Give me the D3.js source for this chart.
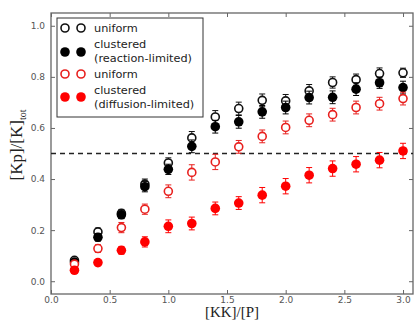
<!DOCTYPE html>
<html><head><meta charset="utf-8">
<script src="https://cdn.jsdelivr.net/npm/d3@7"></script>
<style>body{margin:0;background:#fff}svg{display:block}</style>
</head><body>
<script>
const xs = [0.2,0.4,0.6,0.8,1.0,1.2,1.4,1.6,1.8,2.0,2.2,2.4,2.6,2.8,3.0];
const uniformRL   = [0.082,0.193,0.266,0.38,0.463,0.561,0.643,0.676,0.708,0.706,0.745,0.778,0.789,0.813,0.816];
const uniformRLErr= [0.010,0.015,0.015,0.020,0.020,0.025,0.025,0.025,0.025,0.025,0.025,0.022,0.022,0.022,0.018];
const clusteredRL = [0.075,0.172,0.26,0.37,0.438,0.528,0.605,0.624,0.663,0.68,0.719,0.72,0.752,0.777,0.758];
const clusteredRLErr=[0.010,0.015,0.015,0.020,0.020,0.025,0.025,0.025,0.025,0.025,0.025,0.025,0.025,0.022,0.025];
const uniformDL   = [0.067,0.128,0.21,0.282,0.352,0.426,0.467,0.526,0.567,0.602,0.63,0.652,0.68,0.695,0.715];
const uniformDLErr= [0.010,0.015,0.020,0.020,0.025,0.030,0.030,0.025,0.025,0.025,0.025,0.025,0.025,0.025,0.025];
const clusteredDL = [0.043,0.073,0.121,0.154,0.215,0.226,0.285,0.306,0.337,0.372,0.415,0.441,0.458,0.474,0.51];
const clusteredDLErr=[0.010,0.012,0.015,0.020,0.025,0.025,0.025,0.025,0.030,0.030,0.030,0.030,0.030,0.030,0.030];
const legendLabels = [["uniform"],["clustered","(reaction-limited)"],["uniform"],["clustered","(diffusion-limited)"]];
const xTicks = [0.0,0.5,1.0,1.5,2.0,2.5,3.0];
const yTicks = [0.0,0.2,0.4,0.6,0.8,1.0];

const W=415,H=322;
const svg=d3.select("body").append("svg").attr("width",W).attr("height",H);
const x=d3.scaleLinear().domain([0,3.085]).range([51,413]);
const y=d3.scaleLinear().domain([-0.05,1.05]).range([294,13]);
const frameCol="#666", tickTxt="#555";

// frame
svg.append("rect").attr("x",51).attr("y",13).attr("width",362).attr("height",281)
  .attr("fill","none").attr("stroke",frameCol).attr("stroke-width",1.3);

// axes (ticks inward)
const fmt=d3.format(".1f");
const gx=svg.append("g").attr("transform","translate(0,294)")
  .call(d3.axisBottom(x).tickValues(xTicks).tickFormat(fmt).tickSizeInner(-4).tickSizeOuter(0).tickPadding(3));
const gxt=svg.append("g").attr("transform","translate(0,13)")
  .call(d3.axisTop(x).tickValues(xTicks).tickFormat("").tickSizeInner(-4).tickSizeOuter(0));
const gy=svg.append("g").attr("transform","translate(51,0)")
  .call(d3.axisLeft(y).tickValues(yTicks).tickFormat(fmt).tickSizeInner(-4).tickSizeOuter(0).tickPadding(6));
const gyr=svg.append("g").attr("transform","translate(413,0)")
  .call(d3.axisRight(y).tickValues(yTicks).tickFormat("").tickSizeInner(-4).tickSizeOuter(0));
[gx,gxt,gy,gyr].forEach(g=>{
  g.select(".domain").remove();
  g.selectAll("line").attr("stroke",frameCol);
  g.selectAll("text").attr("fill",tickTxt).attr("font-family","DejaVu Sans").attr("font-size",9);
});

// dashed line at 0.5
svg.append("line").attr("x1",51).attr("x2",413).attr("y1",y(0.5)).attr("y2",y(0.5))
  .attr("stroke","#222").attr("stroke-width",1.4).attr("stroke-dasharray","5,4");

const series=[
  {vals:uniformRL,err:uniformRLErr,col:"#111",filled:false},
  {vals:clusteredRL,err:clusteredRLErr,col:"#000",filled:true},
  {vals:uniformDL,err:uniformDLErr,col:"#e8201e",filled:false},
  {vals:clusteredDL,err:clusteredDLErr,col:"#f00",filled:true},
];
series.forEach(s=>{
  const g=svg.append("g");
  xs.forEach((xv,i)=>{
    const cx=x(xv), v=s.vals[i], e=s.err[i];
    g.append("line").attr("x1",cx).attr("x2",cx).attr("y1",y(v-e)).attr("y2",y(v+e)).attr("stroke",s.col).attr("stroke-width",1);
    [v-e,v+e].forEach(t=>g.append("line").attr("x1",cx-3).attr("x2",cx+3).attr("y1",y(t)).attr("y2",y(t)).attr("stroke",s.col).attr("stroke-width",1));
    g.append("circle").attr("cx",cx).attr("cy",y(v)).attr("r",s.filled?4.8:4)
      .attr("fill",s.filled?s.col:"#fff").attr("stroke",s.col).attr("stroke-width",s.filled?0:1.6);
  });
});

// legend
const lg=svg.append("g");
lg.append("rect").attr("x",57).attr("y",18).attr("width",146).attr("height",99)
  .attr("fill","#fff").attr("stroke","#333").attr("stroke-width",1);
const markerY=[28,52,74,97];
const textY=[[28],[44,58],[74],[90,104]];
series.forEach((s,i)=>{
  [65,81].forEach(mx=>lg.append("circle").attr("cx",mx).attr("cy",markerY[i]).attr("r",s.filled?4.8:4)
    .attr("fill",s.filled?s.col:"#fff").attr("stroke",s.col).attr("stroke-width",s.filled?0:1.6));
  legendLabels[i].forEach((t,j)=>lg.append("text").attr("x",94).attr("y",textY[i][j]).attr("dy","0.35em")
    .attr("font-family","DejaVu Sans").attr("font-size",11.3).attr("fill","#222").text(t));
});

// axis labels
svg.append("text").attr("x",232).attr("y",317).attr("text-anchor","middle")
  .attr("font-family","Liberation Serif").attr("font-size",15).attr("fill","#222").text("[KK]/[P]");
const yl=svg.append("text").attr("transform","translate(22,145) rotate(-90)").attr("text-anchor","middle")
  .attr("font-family","Liberation Serif").attr("font-size",17).attr("fill","#222");
yl.append("tspan").text("[Kp]/[K]");
yl.append("tspan").attr("font-size",10).attr("dy",4).text("tot");
</script>
</body></html>
